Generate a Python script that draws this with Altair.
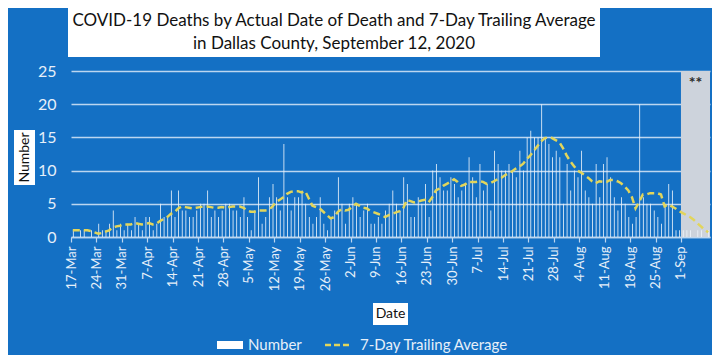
import altair as alt
import pandas as pd

start_date = "2020-03-17"

deaths = [
    1, 0, 1, 1, 0, 1, 0,
    2, 1, 1, 2, 4, 1, 2,
    1, 2, 1, 3, 2, 1, 3,
    3, 1, 2, 5, 3, 3, 7,
    3, 7, 4, 4, 3, 3, 4,
    5, 5, 7, 3, 4, 3, 4,
    5, 5, 4, 4,
    3, 6, 3, 1, 4, 9, 2,
    3, 6, 8, 6, 4, 14, 6,
    4, 6, 6, 7, 5, 3, 2,
    3, 6, 2, 1, 3, 4, 9,
    5, 2, 5, 6, 5, 3, 4,
    5, 2, 2, 3, 2, 4, 5,
    7, 5, 4, 9, 8, 3, 3,
    6, 5, 8, 3, 10, 11, 9,
    7, 7, 9, 8, 6, 7, 8,
    12, 9, 6,
    11, 7, 8, 4, 13, 11, 10,
    10, 11, 10, 9, 13, 10, 15,
    16, 15, 15, 20, 15, 14, 12,
    13, 12, 5, 11, 7, 10, 9,
    13, 7, 6, 5, 11, 6, 11,
    12, 9, 6, 4, 6, 5, 3,
    2, 3, 20, 6, 5, 5, 4,
    3, 2, 5, 8, 7, 1, 1,
    1, 1, 1, 0, 1, 1, 0, 1,
]

avg7 = [
    1.0, 1.0, 1.0, 1.0, 1.0, 0.9, 0.7,
    0.5, 0.6, 0.8, 1.0, 1.4, 1.6, 1.7,
    1.9, 1.9, 1.9, 2.1, 2.0, 1.9, 2.0,
    2.1, 1.9, 2.0, 2.4, 2.7, 3.0, 3.5,
    3.7, 4.3, 4.6, 4.5, 4.4, 4.3, 4.4,
    4.5, 4.6, 4.6, 4.5, 4.4, 4.4, 4.5,
    4.4, 4.5, 4.6, 4.6,
    4.6, 4.4, 4.0, 3.8, 3.8, 4.0, 4.0,
    4.0, 4.1, 4.6, 5.3, 5.6, 6.0, 6.5,
    6.8, 6.9, 6.9, 6.7, 6.9, 5.8, 4.7,
    4.5, 4.3, 3.8, 3.3, 2.8, 3.0, 3.8,
    4.2, 4.0, 4.1, 4.6, 5.0, 4.7, 4.4,
    4.3, 3.9, 3.7, 3.5, 3.3, 3.0, 3.3,
    3.5, 3.7, 3.9, 4.3, 5.6, 5.4, 5.2,
    5.3, 5.5, 5.6, 5.2, 6.0, 7.0, 7.3,
    7.7, 8.0, 8.3, 8.7, 8.3, 7.7, 7.9,
    8.3, 8.3, 8.3,
    8.4, 8.3, 8.0, 8.1, 8.4, 8.7, 8.9,
    9.3, 9.6, 9.9, 10.3, 10.6, 11.0, 11.7,
    12.3, 13.0, 13.7, 14.4, 14.9, 15.0, 14.9,
    14.6, 14.3, 13.4, 12.3, 11.4, 10.7, 10.0,
    9.7, 9.3, 8.9, 8.4, 8.1, 8.4, 8.3,
    8.3, 8.6, 8.6, 8.4, 8.1, 7.6, 7.0,
    6.0, 4.3, 5.3, 6.4, 6.4, 6.6, 6.6,
    6.6, 6.4, 4.6, 4.9, 4.6, 4.3, 3.9,
    3.6, 3.3, 3.0, 2.6, 2.1, 1.6, 1.1, 0.7,
]

tick_dates = [
    (3, 17), (3, 24), (3, 31), (4, 7), (4, 14), (4, 21), (4, 28),
    (5, 5), (5, 12), (5, 19), (5, 26), (6, 2), (6, 9), (6, 16),
    (6, 23), (6, 30), (7, 7), (7, 14), (7, 21), (7, 28), (8, 4),
    (8, 11), (8, 18), (8, 25), (9, 1),
]
y_ticks = [0, 5, 10, 15, 20, 25]

title_lines = ["COVID-19 Deaths by Actual Date of Death and 7-Day Trailing Average",
               "in Dallas County, September 12, 2020"]
y_title = "Number"
x_title = "Date"
legend_labels = ["Number", "7-Day Trailing Average"]
shade_range = ["2020-09-01", "2020-09-09"]
shade_note = "**"

FONT = "Lato"
BG = "#1470C4"
GRID = "#BCD6F0"
LABEL = "#E6EFF9"
BAR = "#EEF4FB"
LINE = "#E2D55B"
SHADE = "#CDD3DC"

dates = pd.date_range(start_date, periods=len(deaths), freq="D")
df = pd.DataFrame({"date": dates, "number": deaths, "avg": avg7})

s0 = pd.Timestamp(shade_range[0])
s1 = pd.Timestamp(shade_range[1])
shade_df = pd.DataFrame({"start": [s0], "end": [s1], "lo": [0], "hi": [25]})
note_df = pd.DataFrame({"date": [s0 + pd.Timedelta(days=4)], "val": [23.2], "label": [shade_note]})
one = pd.DataFrame({"k": [0]})

x_scale = alt.Scale(domain=[alt.DateTime(year=2020, month=3, date=17),
                            alt.DateTime(year=2020, month=9, date=9)])
y_scale = alt.Scale(domain=[0, 25])

x_axis = alt.Axis(values=[alt.DateTime(year=2020, month=m, date=d) for m, d in tick_dates],
                  format="%-d-%b", labelAngle=-90, labelColor=LABEL, labelFont=FONT,
                  labelFontSize=13, grid=False, domainColor=GRID, domainWidth=1.5,
                  tickColor=GRID, tickSize=5, tickWidth=1.2, labelPadding=4,
                  labelOverlap=False, labelFlush=False, title=None)
y_axis = alt.Axis(values=y_ticks, grid=True, gridColor=GRID, gridWidth=1.5,
                  domain=False, ticks=False, labelColor=LABEL, labelFont=FONT,
                  labelFontSize=16, labelPadding=15, title=None)

shade = alt.Chart(shade_df).mark_rect(color=SHADE).encode(
    x=alt.X("start:T", scale=x_scale, axis=x_axis),
    x2="end:T",
    y=alt.Y("lo:Q", scale=y_scale, axis=y_axis),
    y2="hi:Q",
)

bars = alt.Chart(df).mark_bar(color=BAR, width=alt.RelativeBandSize(0.5)).encode(
    x=alt.X("yearmonthdate(date):T", scale=x_scale, axis=x_axis),
    y=alt.Y("number:Q", scale=y_scale, axis=y_axis),
)

line = alt.Chart(df).mark_line(color=LINE, strokeDash=[7, 4], strokeWidth=2.5).encode(
    x=alt.X("yearmonthdate(date):T", scale=x_scale, axis=x_axis, bandPosition=0.5),
    y=alt.Y("avg:Q", scale=y_scale, axis=y_axis),
)

note = alt.Chart(note_df).mark_text(font=FONT, fontSize=16, fontWeight="bold", color="#2a2a2a").encode(
    x=alt.X("date:T", scale=x_scale, axis=x_axis),
    y=alt.Y("val:Q", scale=y_scale, axis=y_axis),
    text="label:N",
)

# title box
title_box = alt.Chart(one).mark_rect(color="white").encode(
    x=alt.value(-3), x2=alt.value(529), y=alt.value(-63), y2=alt.value(-14))
title1 = alt.Chart(one).mark_text(font=FONT, fontSize=17, color="#111111").encode(
    x=alt.value(263), y=alt.value(-50), text=alt.value(title_lines[0]))
title2 = alt.Chart(one).mark_text(font=FONT, fontSize=17, color="#111111").encode(
    x=alt.value(263), y=alt.value(-27), text=alt.value(title_lines[1]))

# y title box
ybox = alt.Chart(one).mark_rect(color="white").encode(
    x=alt.value(-57), x2=alt.value(-36), y=alt.value(59), y2=alt.value(114))
ytext = alt.Chart(one).mark_text(font=FONT, fontSize=14, color="#111111", angle=270).encode(
    x=alt.value(-46.5), y=alt.value(86.5), text=alt.value(y_title))

# x title box
xbox = alt.Chart(one).mark_rect(color="white").encode(
    x=alt.value(302), x2=alt.value(337), y=alt.value(232), y2=alt.value(254))
xtext = alt.Chart(one).mark_text(font=FONT, fontSize=14, color="#111111").encode(
    x=alt.value(319.5), y=alt.value(243), text=alt.value(x_title))

# legend
leg_sw = alt.Chart(one).mark_rect(color="white").encode(
    x=alt.value(146), x2=alt.value(172), y=alt.value(270), y2=alt.value(278))
leg_t1 = alt.Chart(one).mark_text(font=FONT, fontSize=15, color=LABEL, align="left").encode(
    x=alt.value(177), y=alt.value(274), text=alt.value(legend_labels[0]))
leg_ln = alt.Chart(one).mark_rule(color=LINE, strokeDash=[6, 3], strokeWidth=2.5).encode(
    x=alt.value(254), x2=alt.value(281), y=alt.value(274))
leg_t2 = alt.Chart(one).mark_text(font=FONT, fontSize=15, color=LABEL, align="left").encode(
    x=alt.value(289), y=alt.value(274), text=alt.value(legend_labels[1]))

chart = alt.layer(
    shade, bars, line, note,
    title_box, title1, title2, ybox, ytext, xbox, xtext,
    leg_sw, leg_t1, leg_ln, leg_t2,
).properties(
    width=639, height=166, background=BG,
    padding={"left": 63, "top": 63, "right": 2, "bottom": 118},
    autosize=alt.AutoSizeParams(type="none"),
).configure_view(stroke=None)

chart.save("out.html", embed_options={"renderer": "svg", "actions": False})
